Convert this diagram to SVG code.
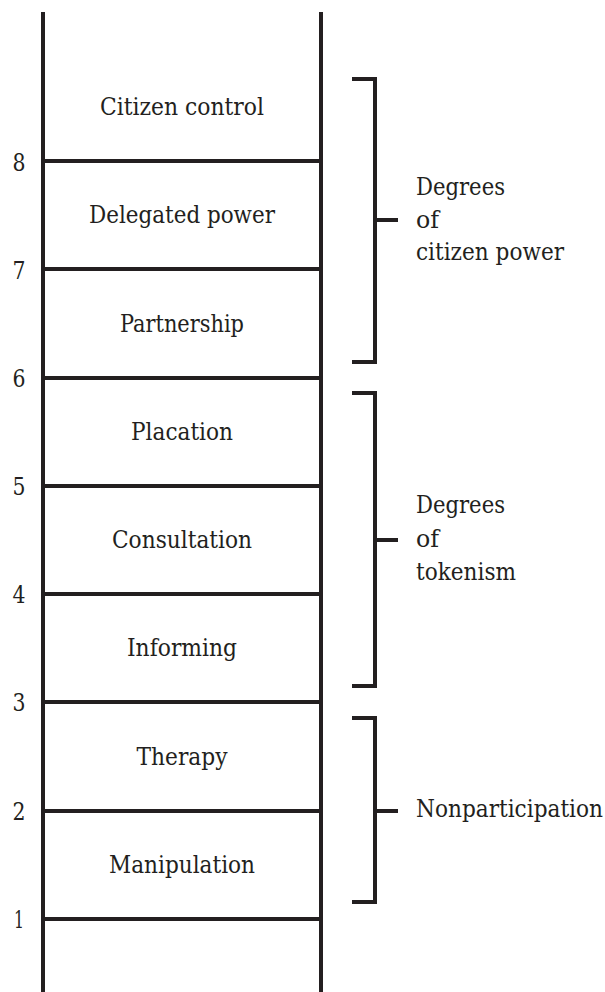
<svg xmlns="http://www.w3.org/2000/svg" width="605" height="992" viewBox="0 0 605 992">
<style>
.ln{stroke:#231f20;stroke-width:4;fill:none}
text{font-family:'DejaVu Serif Condensed','DejaVu Serif',serif;font-stretch:condensed;font-size:24.5px;fill:#231f20}
.c{text-anchor:middle}
</style>
<rect width="605" height="992" fill="#fff"/>
<g id="ladder">
<line class="ln" x1="43" y1="12" x2="43" y2="992"/>
<line class="ln" x1="321" y1="12" x2="321" y2="992"/>
</g>
<g id="connectors">
<line class="ln" x1="43" y1="161" x2="321" y2="161"/>
<line class="ln" x1="43" y1="269" x2="321" y2="269"/>
<line class="ln" x1="43" y1="378" x2="321" y2="378"/>
<line class="ln" x1="43" y1="486" x2="321" y2="486"/>
<line class="ln" x1="43" y1="594" x2="321" y2="594"/>
<line class="ln" x1="43" y1="702" x2="321" y2="702"/>
<line class="ln" x1="43" y1="811" x2="321" y2="811"/>
<line class="ln" x1="43" y1="919" x2="321" y2="919"/>
<path class="ln" d="M352 79H375V362H352M375 220H398"/>
<path class="ln" d="M352 393H375V686H352M375 540H398"/>
<path class="ln" d="M352 718H375V902H352M375 811H398"/>
</g>
<g id="numbers">
<text x="19" y="171" class="c" textLength="13" lengthAdjust="spacingAndGlyphs">8</text>
<text x="19" y="279" class="c" textLength="13" lengthAdjust="spacingAndGlyphs">7</text>
<text x="19" y="387" class="c" textLength="13" lengthAdjust="spacingAndGlyphs">6</text>
<text x="19" y="495" class="c" textLength="13" lengthAdjust="spacingAndGlyphs">5</text>
<text x="19" y="603" class="c" textLength="13" lengthAdjust="spacingAndGlyphs">4</text>
<text x="19" y="711" class="c" textLength="13" lengthAdjust="spacingAndGlyphs">3</text>
<text x="19" y="820" class="c" textLength="13" lengthAdjust="spacingAndGlyphs">2</text>
<text x="19" y="928" class="c" textLength="10" lengthAdjust="spacingAndGlyphs">1</text>
</g>
<g id="rung-citizen-control"><text x="182" y="115" class="c" textLength="164" lengthAdjust="spacingAndGlyphs">Citizen control</text></g>
<g id="rung-delegated-power"><text x="182" y="223" class="c" textLength="186" lengthAdjust="spacingAndGlyphs">Delegated power</text></g>
<g id="rung-partnership"><text x="182" y="332" class="c" textLength="124" lengthAdjust="spacingAndGlyphs">Partnership</text></g>
<g id="rung-placation"><text x="182" y="440" class="c" textLength="102" lengthAdjust="spacingAndGlyphs">Placation</text></g>
<g id="rung-consultation"><text x="182" y="548" class="c" textLength="140" lengthAdjust="spacingAndGlyphs">Consultation</text></g>
<g id="rung-informing"><text x="182" y="656" class="c" textLength="110" lengthAdjust="spacingAndGlyphs">Informing</text></g>
<g id="rung-therapy"><text x="182" y="765" class="c" textLength="91" lengthAdjust="spacingAndGlyphs">Therapy</text></g>
<g id="rung-manipulation"><text x="182" y="873" class="c" textLength="146" lengthAdjust="spacingAndGlyphs">Manipulation</text></g>
<g id="group-citizen-power">
<text x="416" y="195" textLength="89" lengthAdjust="spacingAndGlyphs">Degrees</text>
<text x="416" y="228" textLength="23" lengthAdjust="spacingAndGlyphs">of</text>
<text x="416" y="260" textLength="148" lengthAdjust="spacingAndGlyphs">citizen power</text>
</g>
<g id="group-tokenism">
<text x="416" y="513" textLength="89" lengthAdjust="spacingAndGlyphs">Degrees</text>
<text x="416" y="547" textLength="23" lengthAdjust="spacingAndGlyphs">of</text>
<text x="416" y="580" textLength="100" lengthAdjust="spacingAndGlyphs">tokenism</text>
</g>
<g id="group-nonparticipation">
<text x="416" y="817" textLength="187" lengthAdjust="spacingAndGlyphs">Nonparticipation</text>
</g>
</svg>
